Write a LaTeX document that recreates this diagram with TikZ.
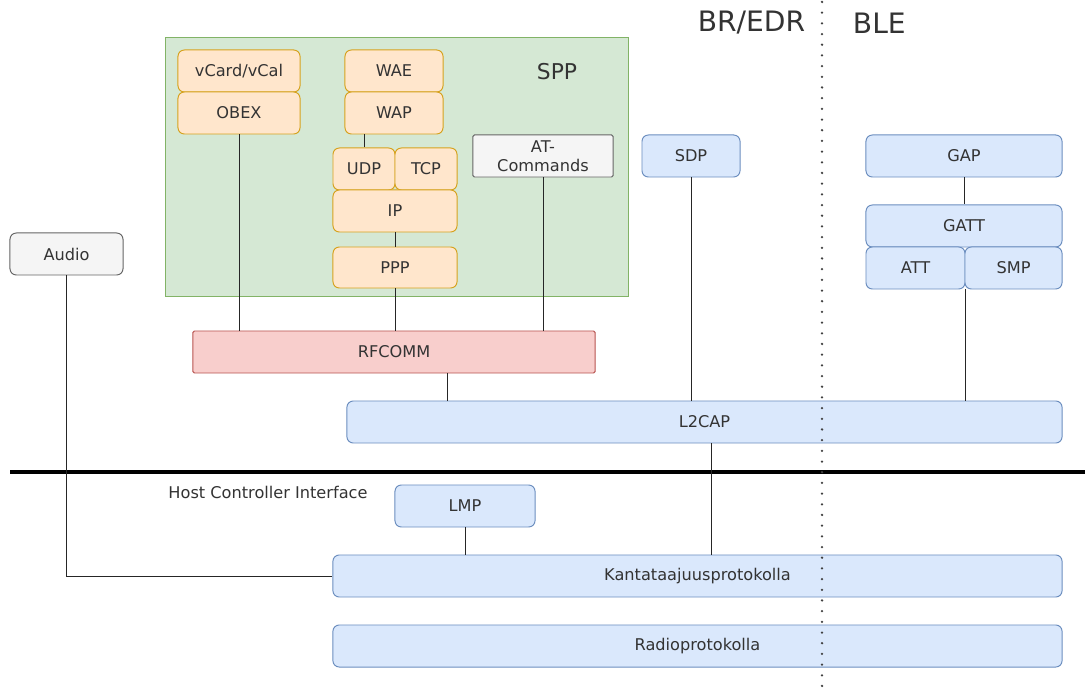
\documentclass[tikz,border=0pt]{standalone}
\usepackage{fontspec}
\setmainfont{DejaVu Sans}
\usepackage{xcolor}
\usepackage{tikz}

\definecolor{blueFill}{HTML}{DAE8FC}
\definecolor{blueLine}{HTML}{6C8EBF}
\definecolor{orangeFill}{HTML}{FFE6CC}
\definecolor{orangeLine}{HTML}{D6A21E}
\definecolor{redFill}{HTML}{F8CECC}
\definecolor{redLine}{HTML}{B85450}
\definecolor{greenFill}{HTML}{D5E8D4}
\definecolor{greenLine}{HTML}{82B366}
\definecolor{grayFill}{HTML}{F5F5F5}
\definecolor{grayLine}{HTML}{666666}
\definecolor{txt}{HTML}{333333}

\tikzset{
  layer/.style={draw, rounded corners=4.5pt, line width=0.7pt, text=txt,
    font=\fontsize{11.5}{13.5}\selectfont, inner sep=0pt, align=center},
  blue/.style={layer, fill=blueFill, draw=blueLine},
  orange/.style={layer, fill=orangeFill, draw=orangeLine},
  red/.style={layer, fill=redFill, draw=redLine},
  gray/.style={layer, fill=grayFill, draw=grayLine},
  conn/.style={line width=0.7pt, draw=black!85}
}

\begin{document}
\begin{tikzpicture}[x=0.025cm, y=-0.025cm]
\useasboundingbox (0,0) rectangle (1085,688);

% serial port profile group
\node[draw=greenLine, fill=greenFill, line width=0.6pt, minimum width=11.575cm, minimum height=6.475cm] (spp) at (396.5,166.5) {};
\node[text=txt, font=\fontsize{15.5}{18}\selectfont] (spplabel) at (557,72) {SPP};

% protocols on top of RFCOMM
\node[orange, minimum width=3.05cm, minimum height=1.05cm] (vcard) at (239,71) {vCard/vCal};
\node[orange, minimum width=3.05cm, minimum height=1.05cm] (obex) at (239,113) {OBEX};
\node[orange, minimum width=2.45cm, minimum height=1.05cm] (wae) at (394,71) {WAE};
\node[orange, minimum width=2.45cm, minimum height=1.05cm] (wap) at (394,113) {WAP};
\node[orange, minimum width=1.55cm, minimum height=1.05cm] (udp) at (364,169) {UDP};
\node[orange, minimum width=1.55cm, minimum height=1.05cm] (tcp) at (426,169) {TCP};
\node[orange, minimum width=3.1cm, minimum height=1.05cm] (ip) at (395,211) {IP};
\node[orange, minimum width=3.1cm, minimum height=1.025cm] (ppp) at (395,267.5) {PPP};
\node[gray, minimum width=3.5cm, minimum height=1.05cm, rounded corners=1pt] (at) at (543,156) {AT-\\Commands};

\node[blue, minimum width=2.45cm, minimum height=1.05cm] (sdp) at (691,156) {SDP};
\node[gray, minimum width=2.825cm, minimum height=1.05cm] (audio) at (66.5,254) {Audio};

% low energy side
\node[blue, minimum width=4.9cm, minimum height=1.05cm] (gap) at (964,156) {GAP};
\node[blue, minimum width=4.9cm, minimum height=1.05cm] (gatt) at (964,226) {GATT};
\node[blue, minimum width=2.475cm, minimum height=1.05cm] (att) at (915.5,268) {ATT};
\node[blue, minimum width=2.425cm, minimum height=1.05cm] (smp) at (1013.5,268) {SMP};

\node[red, minimum width=10.05cm, minimum height=1.05cm, rounded corners=1pt] (rfcomm) at (394,352) {RFCOMM};
\node[blue, minimum width=17.875cm, minimum height=1.05cm] (l2cap) at (704.5,422) {L2CAP};

% controller part
\node[blue, minimum width=3.5cm, minimum height=1.05cm] (lmp) at (465,506) {LMP};
\node[blue, minimum width=18.225cm, minimum height=1.05cm] (kanta) at (697.5,576) {Kantataajuusprotokolla};
\node[blue, minimum width=18.225cm, minimum height=1.05cm] (radio) at (697.5,646) {Radioprotokolla};

\node[text=txt, font=\fontsize{11.5}{13.5}\selectfont] (hci) at (268,492) {Host Controller Interface};
\coordinate (hciL) at (10,472);
\coordinate (hciR) at (1085,472);
\draw[line width=2.2pt] (hciL) -- (hciR);

% BR/EDR | BLE split
\coordinate (splitT) at (822,2);
\coordinate (splitB) at (822,688);
\draw[line width=1.8pt, line cap=round, dash pattern=on 0pt off 7.6pt, black!75] (splitT) -- (splitB);
\node[text=txt, font=\fontsize{20}{22}\selectfont, anchor=east] (bredr) at (810,23) {BR/EDR};
\node[text=txt, font=\fontsize{20}{22}\selectfont, anchor=west] (ble) at (848,23) {BLE};

% connections
\draw[conn] (obex.south) -- (obex.south |- rfcomm.north);
\draw[conn] (udp.north) -- (udp.north |- wap.south);
\draw[conn] (ip.south) -- (ppp.north);
\draw[conn] (ppp.south) -- (ppp.south |- rfcomm.north);
\draw[conn] (at.south) -- (at.south |- rfcomm.north);
\draw[conn] (447,0 |- rfcomm.south) -- (447,0 |- l2cap.north);
\draw[conn] (sdp.south) -- (sdp.south |- l2cap.north);
\draw[conn] (gap.south) -- (gatt.north);
\draw[conn] (att.south east) -- (att.south east |- l2cap.north);
\draw[conn] (711,0 |- l2cap.south) -- (711,0 |- kanta.north);
\draw[conn] (lmp.south) -- (lmp.south |- kanta.north);
\draw[conn] (audio.south) |- (kanta.west);
\end{tikzpicture}
\end{document}
